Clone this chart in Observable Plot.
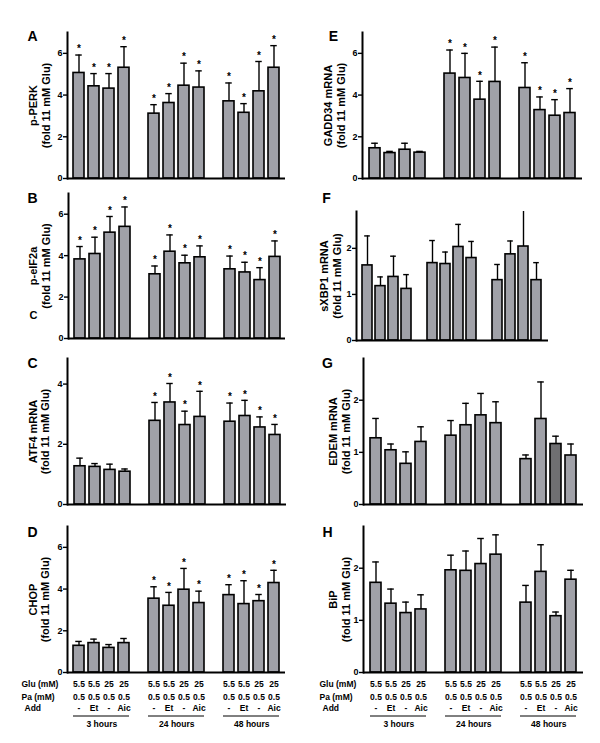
<!DOCTYPE html>
<html><head><meta charset="utf-8">
<script src="https://cdn.jsdelivr.net/npm/d3@7"></script>
<script src="https://cdn.jsdelivr.net/npm/@observablehq/plot@0.6"></script>
<style>
body{margin:0;background:#fff;}
#chart{position:relative;width:600px;height:743px;font-family:"Liberation Sans",Arial,sans-serif;}
#chart svg{position:absolute;overflow:visible;}
</style></head><body><div id="chart"></div>
<script>
// ---- labels ----
const timepoints = ["3 hours", "24 hours", "48 hours"];
const gluLabels = ["5.5", "5.5", "25", "25"];
const paLabels = ["0.5", "0.5", "0.5", "0.5"];
const addLabels = ["-", "Et", "-", "Aic"];
const rowLabels = ["Glu (mM)", "Pa (mM)", "Add"];

// ---- data (fold of 11 mM Glu), 12 bars: 3 time points x 4 conditions ----
const perkMean = [5.06, 4.42, 4.31, 5.31, 3.11, 3.62, 4.45, 4.36, 3.70, 3.15, 4.18, 5.31];
const perkErr  = [0.86, 0.61, 0.72, 1.01, 0.43, 0.45, 1.08, 0.80, 0.88, 0.44, 1.43, 1.06];
const perkStar = [1,1,1,1, 1,1,1,1, 1,1,1,1];

const eif2aMean = [3.82, 4.08, 5.11, 5.39, 3.10, 4.19, 3.63, 3.92, 3.34, 3.19, 2.82, 3.94];
const eif2aErr  = [0.62, 0.81, 0.78, 0.96, 0.40, 0.81, 0.39, 0.55, 0.64, 0.49, 0.60, 0.77];
const eif2aStar = [1,1,1,1, 1,1,1,1, 1,1,1,1];

const atf4Mean = [1.27, 1.25, 1.15, 1.09, 2.78, 3.39, 2.64, 2.91, 2.75, 2.94, 2.56, 2.31];
const atf4Err  = [0.27, 0.11, 0.19, 0.09, 0.61, 0.63, 0.46, 0.85, 0.62, 0.52, 0.35, 0.35];
const atf4Star = [0,0,0,0, 1,1,1,1, 1,1,1,1];

const chopMean = [1.28, 1.41, 1.18, 1.41, 3.54, 3.20, 3.97, 3.33, 3.71, 3.28, 3.42, 4.29];
const chopErr  = [0.21, 0.19, 0.16, 0.22, 0.57, 0.64, 1.02, 0.57, 0.50, 1.12, 0.32, 0.61];
const chopStar = [0,0,0,0, 1,1,1,1, 1,1,1,1];

const gadd34Mean = [1.45, 1.22, 1.38, 1.24, 5.03, 4.82, 3.78, 4.63, 4.34, 3.28, 3.01, 3.14];
const gadd34Err  = [0.24, 0.08, 0.31, 0.06, 1.13, 1.18, 0.88, 1.67, 1.21, 0.63, 0.77, 1.17];
const gadd34Star = [0,0,0,0, 1,1,1,1, 1,1,1,1];

const sxbp1Mean = [1.63, 1.18, 1.38, 1.12, 1.68, 1.66, 2.03, 1.79, 1.31, 1.87, 2.04, 1.31];
const sxbp1Err  = [0.64, 0.20, 0.45, 0.31, 0.49, 0.26, 0.49, 0.36, 0.34, 0.29, 0.85, 0.38];
const sxbp1Star = [0,0,0,0, 0,0,0,0, 0,0,0,0];

const edemMean = [1.27, 1.04, 0.78, 1.20, 1.32, 1.52, 1.71, 1.56, 0.87, 1.64, 1.16, 0.94];
const edemErr  = [0.38, 0.12, 0.23, 0.29, 0.29, 0.42, 0.42, 0.41, 0.08, 0.71, 0.15, 0.22];
const edemStar = [0,0,0,0, 0,0,0,0, 0,0,0,0];

const bipMean = [1.72, 1.32, 1.14, 1.21, 1.96, 1.95, 2.08, 2.26, 1.34, 1.93, 1.08, 1.78];
const bipErr  = [0.40, 0.28, 0.21, 0.28, 0.29, 0.38, 0.49, 0.38, 0.33, 0.52, 0.08, 0.18];
const bipStar = [0,0,0,0, 0,0,0,0, 0,0,0,0];

const ticks7 = [0, 2, 4, 6];
const ticks5 = [0, 2, 4];
const ticks3 = [0, 1, 2];

// ---- panels ----
const panels = [
  {letter: "A", label: "p-PERK\n(fold 11 mM Glu)", mean: perkMean, err: perkErr, star: perkStar, ymax: 7, ticks: ticks7},
  {letter: "B", label: "p-eIF2a\n(fold 11 mM Glu)", mean: eif2aMean, err: eif2aErr, star: eif2aStar, ymax: 7, ticks: ticks7, stray: "C"},
  {letter: "C", label: "ATF4 mRNA\n(fold 11 mM Glu)", mean: atf4Mean, err: atf4Err, star: atf4Star, ymax: 4.85, ticks: ticks5},
  {letter: "D", label: "CHOP\n(fold 11 mM Glu)", mean: chopMean, err: chopErr, star: chopStar, ymax: 7, ticks: ticks7, table: true},
  {letter: "E", label: "GADD34 mRNA\n(fold 11 mM Glu)", mean: gadd34Mean, err: gadd34Err, star: gadd34Star, ymax: 7, ticks: ticks7},
  {letter: "F", label: "sXBP1 mRNA\n(fold 11 mM Glu)", mean: sxbp1Mean, err: sxbp1Err, star: sxbp1Star, ymax: 2.8, ticks: ticks3},
  {letter: "G", label: "EDEM mRNA\n(fold 11 mM Glu)", mean: edemMean, err: edemErr, star: edemStar, ymax: 2.8, ticks: ticks3, dark: 10},
  {letter: "H", label: "BiP\n(fold 11 mM Glu)", mean: bipMean, err: bipErr, star: bipStar, ymax: 2.8, ticks: ticks3, table: true}
];

// layout (pixels)
const layout = {
  A: {left: 0,   top: 32,  bottom: 178, mL: 67, mR: 15, pI: 0.28, pO: 0.105, lx: -35, ly: 4,  ldx: -28},
  B: {left: 0,   top: 193, bottom: 338, mL: 68, mR: 15, pI: 0.28, pO: 0.105, lx: -36, ly: 5,  ldx: -29},
  C: {left: 0,   top: 358, bottom: 504, mL: 67, mR: 14, pI: 0.28, pO: 0.105, lx: -35, ly: 5,  ldx: -28.5},
  D: {left: 0,   top: 526, bottom: 672, mL: 67, mR: 15, pI: 0.28, pO: 0.105, lx: -35, ly: 6,  ldx: -28.5, rowDx: -46},
  E: {left: 300, top: 32,  bottom: 178, mL: 62, mR: 18, pI: 0.30, pO: 0.18,  lx: -29, ly: 4,  ldx: -28},
  F: {left: 300, top: 211, bottom: 340, mL: 56, mR: 52, pI: 0.21, pO: 0.04,  lx: -30, ly: -13, ldx: -26},
  G: {left: 300, top: 358, bottom: 504, mL: 63, mR: 17, pI: 0.30, pO: 0.18,  lx: -36, ly: 5,  ldx: -24},
  H: {left: 300, top: 526, bottom: 672, mL: 63, mR: 17, pI: 0.30, pO: 0.18,  lx: -36, ly: 6,  ldx: -24, rowDx: -44}
};

const FONT = '"Liberation Sans", Arial, sans-serif';
const BAR = "#a0a1a8";
const BAR_DARK = "#6f6f72";

// x domain: 4 bars per time point, one empty slot between time points
const keys = [];
const domain = [];
timepoints.forEach((t, ti) => {
  for (let c = 0; c < 4; c++) { keys.push(t + "#" + c); domain.push(t + "#" + c); }
  if (ti < timepoints.length - 1) domain.push("gap" + ti);
});

const chart = document.getElementById("chart");

for (const p of panels) {
  const L = layout[p.letter];
  const rows = p.mean.map((m, i) => ({key: keys[i], i, mean: m, top: m + p.err[i], star: p.star[i]}));
  const svgTop = L.top - 20;
  const height = p.table ? 743 - svgTop : (L.bottom - svgTop + 12);
  const W = 300;
  const step = (W - L.mL - L.mR) / (domain.length - L.pI + 2 * L.pO);
  const bw = step * (1 - L.pI);
  const cap = bw * 0.2;

  const marks = [
    Plot.barY(rows, {x: "key", y: "mean", fill: d => (p.dark === d.i ? BAR_DARK : BAR), stroke: "black", strokeWidth: 1.6}),
    Plot.ruleX(rows, {x: "key", y1: "mean", y2: "top", stroke: "black", strokeWidth: 1.4, clip: true}),
    Plot.tickY(rows, {x: "key", y: "top", stroke: "black", strokeWidth: 1.4, insetLeft: cap, insetRight: cap, clip: true}),
    Plot.text(rows.filter(d => d.star), {x: "key", y: "top", text: () => "*", dy: -6, fontSize: 10, fontWeight: "bold", lineAnchor: "middle"}),
    Plot.ruleY([0], {stroke: "black", strokeWidth: 2}),
    Plot.axisY({ticks: p.ticks, tickSize: 4, tickPadding: 1, tickFormat: d3.format("d"), fontSize: 9, fontWeight: "bold", label: null, strokeWidth: 1.4}),
    Plot.frame({anchor: "left", stroke: "black", strokeWidth: 2}),
    Plot.text([p.letter], {frameAnchor: "top-left", dx: L.lx, dy: L.ly, fontSize: 14, fontWeight: "bold", textAnchor: "middle", lineAnchor: "middle"}),
    Plot.text([p.label], {frameAnchor: "left", dx: L.ldx, rotate: -90, fontSize: 11, fontWeight: "bold", lineHeight: 1.15, textAnchor: "middle", lineAnchor: "middle"})
  ];
  if (p.stray) {
    marks.push(Plot.text([p.stray], {frameAnchor: "bottom-left", dx: -35, dy: -23, fontSize: 11, fontWeight: "bold", textAnchor: "middle", lineAnchor: "middle"}));
  }
  if (p.table) {
    const rowArrays = [gluLabels, paLabels, addLabels];
    const rowDy = [12, 25, 36];
    rowArrays.forEach((arr, r) => {
      marks.push(Plot.text(rows, {x: "key", text: d => arr[d.i % 4], frameAnchor: "bottom", dy: rowDy[r], fontSize: 8.5, fontWeight: "bold", lineAnchor: "middle"}));
      marks.push(Plot.text([rowLabels[r]], {frameAnchor: "bottom-left", dx: L.rowDx + (r === 2 ? 3 : 0), dy: rowDy[r], fontSize: 8.5, fontWeight: "bold", textAnchor: "start", lineAnchor: "middle"}));
    });
    const groups = timepoints.map((t) => ({t, k1: t + "#0", k2: t + "#3", kc: t + "#1"}));
    marks.push(Plot.ruleY(groups, {x1: "k1", x2: "k2", y: () => 0, dy: 43.5, stroke: "black", strokeWidth: 1}));
    marks.push(Plot.text(groups, {x: "kc", text: "t", frameAnchor: "bottom", dx: step / 2, dy: 52, fontSize: 8.5, fontWeight: "bold", lineAnchor: "middle"}));
  }

  const svg = Plot.plot({
    width: W,
    height,
    marginLeft: L.mL,
    marginRight: L.mR,
    marginTop: L.top - svgTop,
    marginBottom: svgTop + height - L.bottom,
    x: {type: "band", domain, paddingInner: L.pI, paddingOuter: L.pO, axis: null},
    y: {domain: [0, p.ymax], axis: null},
    style: {fontFamily: FONT, background: "transparent", overflow: "visible", color: "black"},
    marks
  });
  svg.style.left = L.left + "px";
  svg.style.top = svgTop + "px";
  chart.appendChild(svg);
}
</script>
</body></html>
